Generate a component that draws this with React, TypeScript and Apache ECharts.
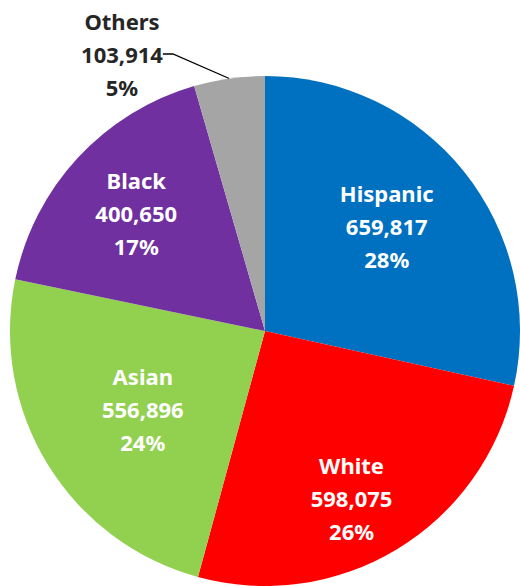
import React, { useEffect, useRef } from "react";
import * as echarts from "echarts";

const categories = ["Hispanic", "White", "Asian", "Black", "Others"];
const values = [659817, 598075, 556896, 400650, 103914];
const percentLabels = ["28%", "26%", "24%", "17%", "5%"];
const colors = ["#0070C0", "#FF0000", "#92D050", "#7030A0", "#A5A5A5"];
const labelOffsets: [number, number][] = [
  [20, -23],
  [19, 55],
  [-11, 10],
  [-33, -29],
  [0, 0],
];

export default function App() {
  const ref = useRef<HTMLDivElement>(null);
  useEffect(() => {
    if (!ref.current) return;
    const chart = echarts.init(ref.current, undefined, { renderer: "svg" });
    const fmt = (v: number) => v.toLocaleString("en-US");
    const data = categories.map((name, i) => {
      const isOthers = i === 4;
      return {
        name,
        value: values[i],
        itemStyle: { color: colors[i] },
        label: isOthers
          ? {
              show: true,
              position: "outside",
              color: "#262626",
              formatter: `${name}\n${fmt(values[i])}\n${percentLabels[i]}`,
            }
          : {
              show: true,
              position: "inside",
              offset: labelOffsets[i],
              color: "#ffffff",
              formatter: `${name}\n${fmt(values[i])}\n${percentLabels[i]}`,
            },
        labelLine: isOthers
          ? { show: true, length: 10, length2: 10, lineStyle: { color: "#000000", width: 1.3 } }
          : { show: false },
      };
    });
    chart.setOption({
      animation: false,
      backgroundColor: "#ffffff",
      series: [
        {
          type: "pie",
          center: [265, 331],
          radius: [0, 255],
          startAngle: 90,
          clockwise: true,
          avoidLabelOverlap: false,
          itemStyle: { borderWidth: 0 },
          emphasis: { disabled: true },
          label: {
            fontFamily: "Noto Sans",
            fontWeight: "bold",
            fontSize: 22,
            lineHeight: 33,
            align: "center",
          },
          labelLayout: (params: any) => {
            if (params.dataIndex === 4) {
              return { x: 122, y: 54, align: "center", verticalAlign: "middle" };
            }
            return {};
          },
          data,
        },
      ],
    });
    return () => chart.dispose();
  }, []);
  return (
    <div
      ref={ref}
      style={{ position: "absolute", left: 0, top: 0, width: 520, height: 586 }}
    />
  );
}
